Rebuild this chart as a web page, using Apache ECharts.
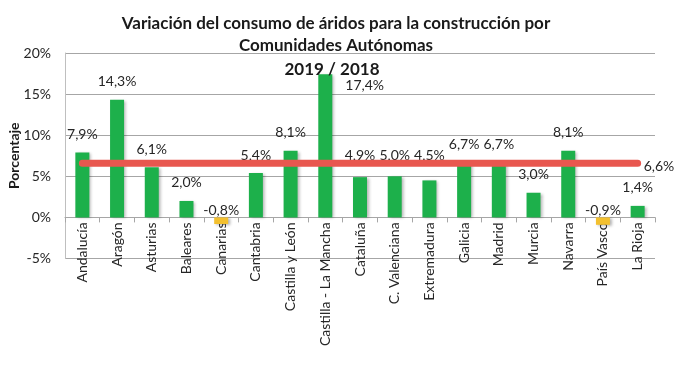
<!DOCTYPE html>
<html>
<head>
<meta charset="utf-8">
<script src="https://cdn.jsdelivr.net/npm/echarts@6/dist/echarts.min.js"></script>
<style>
html,body{margin:0;padding:0;background:#fff;}
#chart{width:684px;height:366px;}
</style>
</head>
<body>
<div id="chart"></div>
<script>
const categories = ['Andalucía','Aragón','Asturias','Baleares','Canarias','Cantabria','Castilla y León','Castilla - La Mancha','Cataluña','C. Valenciana','Extremadura','Galicia','Madrid','Murcia','Navarra','País Vasco','La Rioja'];
const variation = [7.9, 14.3, 6.1, 2.0, -0.8, 5.4, 8.1, 17.4, 4.9, 5.0, 4.5, 6.7, 6.7, 3.0, 8.1, -0.9, 1.4];
const nationalAverage = 6.6;
const yTicks = [-5, 0, 5, 10, 15, 20];

const FONT = 'Lato, "Open Sans", sans-serif';
const fmt = v => v.toFixed(1).replace('.', ',') + '%';

// grid geometry (style)
const GRID_TOP = 53, GRID_BOTTOM = 107.5, H = 366;
const plotH = H - GRID_TOP - GRID_BOTTOM;
const zeroOffset = plotH * (0 - yTicks[0]) / (yTicks[yTicks.length - 1] - yTicks[0]);

// label placement tweaks (style only)
const labelDistance = {8: 15, 9: 14, 10: 18};

const barData = variation.map((v, i) => {
  const item = {
    value: v,
    itemStyle: { color: v < 0 ? '#f3c02f' : '#1db04b' }
  };
  if (categories[i] === 'Castilla - La Mancha') {
    item.label = { position: ['100%', 0], offset: [13, 4], align: 'left', verticalAlign: 'top' };
  } else if (v < 0) {
    item.label = { distance: 0 };
  } else if (labelDistance[i] !== undefined) {
    item.label = { distance: labelDistance[i] };
  }
  return item;
});

const avgLine = categories.map(() => nationalAverage);

const chart = echarts.init(document.getElementById('chart'), null, {renderer: 'canvas'});
chart.setOption({
  animation: false,
  backgroundColor: '#fff',
  textStyle: { fontFamily: FONT },
  title: [
    {
      text: 'Variación del consumo de áridos para la construcción por\nComunidades Autónomas',
      left: 331, top: 8, textAlign: 'center',
      textStyle: { fontFamily: FONT, fontSize: 17, fontWeight: 'bold', color: '#1a1a1a', lineHeight: 22 }
    },
    {
      text: '2019 / 2018',
      left: 327, top: 56, textAlign: 'center',
      textStyle: { fontFamily: FONT, fontSize: 17, fontWeight: 'bold', color: '#1a1a1a' }
    }
  ],
  grid: { left: 65, right: 29, top: GRID_TOP, bottom: GRID_BOTTOM, containLabel: false, outerBoundsMode: 'none' },
  xAxis: {
    type: 'category',
    data: categories,
    position: 'bottom',
    offset: -zeroOffset,
    axisLine: { show: true, onZero: false, lineStyle: { color: '#a6a6a6', width: 1 } },
    axisTick: { show: true, alignWithLabel: false, length: 5, lineStyle: { color: '#a6a6a6' } },
    axisLabel: { rotate: 90, fontSize: 14, color: '#262626', margin: 5, fontFamily: FONT, interval: 0, overflow: 'none' },
    splitLine: { show: false }
  },
  yAxis: {
    type: 'value',
    min: yTicks[0], max: yTicks[yTicks.length - 1], interval: 5,
    name: 'Porcentaje',
    nameLocation: 'middle',
    nameGap: 44,
    nameMoveOverlap: false,
    nameTextStyle: { fontFamily: FONT, fontSize: 14, fontWeight: 'bold', color: '#1a1a1a' },
    axisLine: { show: true, lineStyle: { color: '#bfbfbf' } },
    axisTick: { show: false },
    axisLabel: { formatter: v => v + '%', fontSize: 14, color: '#262626', margin: 14, fontFamily: FONT },
    splitLine: { show: true, lineStyle: { color: '#a6a6a6', width: 1 } }
  },
  series: [
    {
      type: 'bar',
      data: barData,
      barWidth: 14,
      itemStyle: { shadowColor: 'rgba(0,0,0,0.3)', shadowBlur: 3, shadowOffsetX: 2, shadowOffsetY: 1 },
      label: {
        show: true, position: 'top', distance: 11,
        formatter: p => fmt(p.value),
        fontSize: 14, color: '#262626', fontFamily: FONT
      },
      z: 2
    },
    {
      type: 'line',
      data: avgLine,
      symbol: 'none',
      lineStyle: { color: '#e8574f', width: 7, cap: 'round' },
      endLabel: {
        show: true, formatter: p => fmt(p.value), fontSize: 14, color: '#262626',
        distance: 6, offset: [0, 3], fontFamily: FONT
      },
      z: 3
    }
  ]
});
</script>
</body>
</html>
